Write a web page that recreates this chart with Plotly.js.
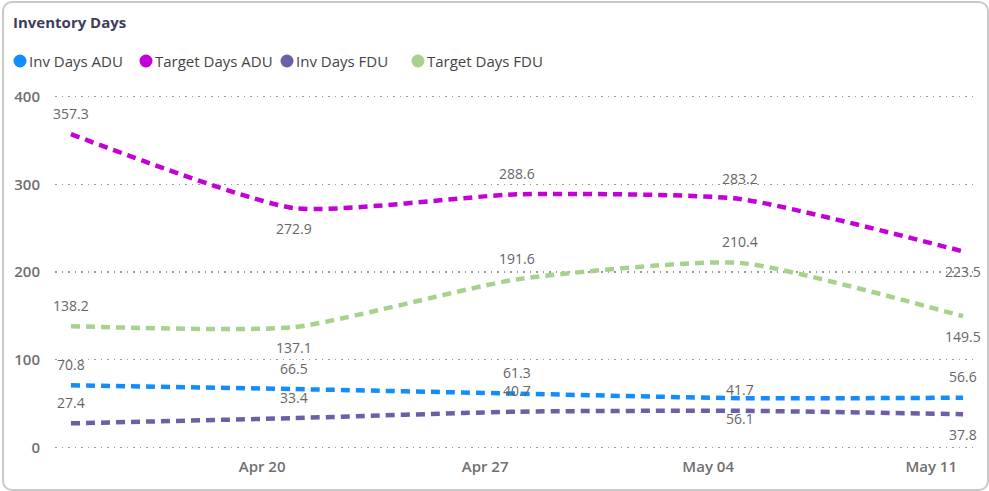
<!DOCTYPE html>
<html>
<head>
<meta charset="utf-8">
<script src="https://cdn.plot.ly/plotly-3.0.1.min.js"></script>
<style>
  html, body { margin: 0; padding: 0; background: #ffffff; }
  #wrap { position: relative; width: 989px; height: 491px; overflow: hidden; }
  #chart { position: absolute; left: 0; top: 0; width: 989px; height: 491px; }
  #frame { position: absolute; left: 2px; top: 1px; width: 983px; height: 486px;
           border: 2px solid #c9c9c9; border-radius: 10px; pointer-events: none; }
</style>
</head>
<body>
<div id="wrap">
  <div id="chart"></div>
  <div id="frame"></div>
</div>
<script>
// ---- data ----
const dates = ['2024-04-14', '2024-04-21', '2024-04-28', '2024-05-05', '2024-05-12'];
const seriesNames = ['Inv Days ADU', 'Target Days ADU', 'Inv Days FDU', 'Target Days FDU'];
const invDaysADU    = [70.8, 66.5, 61.3, 56.1, 56.6];
const targetDaysADU = [357.3, 272.9, 288.6, 283.2, 223.5];
const invDaysFDU    = [27.4, 33.4, 40.7, 41.7, 37.8];
const targetDaysFDU = [138.2, 137.1, 191.6, 210.4, 149.5];
const tickDates  = ['2024-04-20', '2024-04-27', '2024-05-04', '2024-05-11'];
const tickLabels = ['Apr 20', 'Apr 27', 'May 04', 'May 11'];
const yTicks = [0, 100, 200, 300, 400];

// label placement (above / below the line)
const posInvADU    = ['top', 'top', 'top', 'bottom', 'top'];
const posTargetADU = ['top', 'bottom', 'top', 'top', 'bottom'];
const posInvFDU    = ['top', 'top', 'top', 'top', 'bottom'];
const posTargetFDU = ['top', 'bottom', 'top', 'top', 'bottom'];

// ---- styles ----
const colors = ['#118DFF', '#C300D6', '#6B5FA8', '#A9D18E'];
const FONT = "'Segoe UI', 'Open Sans', sans-serif";
const M = { l: 55, r: 14, t: 94, b: 41 };
const W = 989, H = 491;
const PW = W - M.l - M.r, PH = H - M.t - M.b;
const px2paperX = px => (px - M.l) / PW;
const px2paperY = py => (H - M.b - py) / PH;

const values = [invDaysADU, targetDaysADU, invDaysFDU, targetDaysFDU];
const positions = [posInvADU, posTargetADU, posInvFDU, posTargetFDU];

const traces = values.map((v, i) => ({
  type: 'scatter',
  mode: 'lines',
  x: dates,
  y: v,
  name: seriesNames[i],
  showlegend: false,
  hoverinfo: 'skip',
  line: { color: colors[i], width: 4.5, dash: '9px,6px', shape: 'spline', smoothing: 0.55 }
}));

const annotations = [];
values.forEach((v, i) => {
  v.forEach((val, j) => {
    annotations.push({
      x: dates[j], y: val, xref: 'x', yref: 'y',
      text: val.toFixed(1),
      showarrow: false,
      xanchor: 'center', yanchor: 'middle',
      yshift: positions[i][j] === 'top' ? 21 : -20,
      font: { family: FONT, size: 14, color: '#666666' }
    });
  });
});

// custom legend with round dots
const legendDotX = [20, 146, 287, 418];
const legendY = 61;
const shapes = [];
seriesNames.forEach((n, i) => {
  shapes.push({
    type: 'circle', xref: 'paper', yref: 'paper',
    xsizemode: 'pixel', ysizemode: 'pixel',
    xanchor: px2paperX(legendDotX[i]), yanchor: px2paperY(legendY),
    x0: -6.5, x1: 6.5, y0: -6.5, y1: 6.5,
    fillcolor: colors[i], line: { width: 0 }
  });
  annotations.push({
    xref: 'paper', yref: 'paper',
    x: px2paperX(legendDotX[i] + 7), y: px2paperY(legendY),
    xanchor: 'left', yanchor: 'middle',
    text: n, showarrow: false,
    font: { family: FONT, size: 15, color: '#444444' }
  });
});

const layout = {
  width: W, height: H,
  margin: M,
  paper_bgcolor: 'rgba(0,0,0,0)',
  plot_bgcolor: 'rgba(0,0,0,0)',
  title: {
    text: '<b>Inventory Days</b>',
    xref: 'container', yref: 'container',
    x: 13 / W, y: 1 - 23 / H,
    xanchor: 'left', yanchor: 'middle',
    font: { family: FONT, size: 15, color: '#3E3D5C' }
  },
  showlegend: false,
  xaxis: {
    type: 'date',
    range: ['2024-04-13 12:00', '2024-05-12 09:00'],
    tickvals: tickDates, ticktext: tickLabels,
    showgrid: false, zeroline: false, showline: false, ticks: '',
    tickfont: { family: FONT, size: 15, color: '#707070', weight: 600 },
    ticklabelstandoff: 6
  },
  yaxis: {
    range: [-3, 403],
    tickvals: yTicks,
    showgrid: true, gridcolor: '#999999', griddash: '1.5px,5px', gridwidth: 1.5,
    zeroline: false, showline: false, ticks: '',
    tickfont: { family: FONT, size: 15, color: '#707070', weight: 600 },
    ticklabelstandoff: 14
  },
  shapes: shapes,
  annotations: annotations
};

Plotly.newPlot('chart', traces, layout, { displayModeBar: false, staticPlot: true });
</script>
</body>
</html>
